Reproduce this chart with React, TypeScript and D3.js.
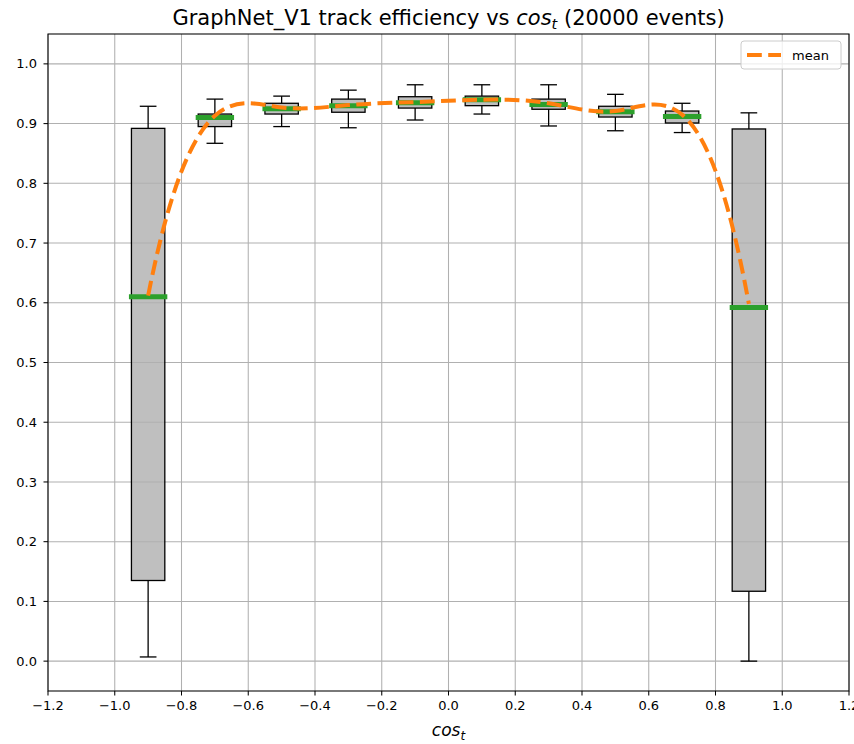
import React from "react";
import * as d3 from "d3";

// Box positions along cos_t and the per-bin efficiency statistics
const positions = [-0.9, -0.7, -0.5, -0.3, -0.1, 0.1, 0.3, 0.5, 0.7, 0.9];
const whiskerLow = [0.007, 0.867, 0.895, 0.893, 0.906, 0.916, 0.896, 0.888, 0.885, 0.0];
const q1 = [0.135, 0.895, 0.916, 0.919, 0.926, 0.930, 0.924, 0.911, 0.901, 0.117];
const medians = [0.61, 0.91, 0.925, 0.93, 0.935, 0.94, 0.932, 0.92, 0.912, 0.592];
const q3 = [0.892, 0.916, 0.934, 0.941, 0.945, 0.946, 0.941, 0.929, 0.921, 0.891];
const whiskerHigh = [0.929, 0.941, 0.946, 0.956, 0.965, 0.965, 0.965, 0.949, 0.934, 0.918];
const means = [0.612, 0.913, 0.927, 0.931, 0.936, 0.94, 0.934, 0.921, 0.915, 0.598];

const xTicks = [-1.2, -1.0, -0.8, -0.6, -0.4, -0.2, 0.0, 0.2, 0.4, 0.6, 0.8, 1.0, 1.2];
const yTicks = [0.0, 0.1, 0.2, 0.3, 0.4, 0.5, 0.6, 0.7, 0.8, 0.9, 1.0];

const W = 854;
const H = 744;
const left = 48;
const right = 849;
const top = 34;
const bottom = 691;
const boxWidth = 0.1;

const FONT = "'DejaVu Sans', sans-serif";

const fmt = (v: number) => v.toFixed(1).replace("-", "\u2212");

// Cubic spline with not-a-knot end conditions, emitted as Bezier segments.
function splinePath(px: number[], py: number[]): string {
  const n = px.length;
  const h = d3.range(n - 1).map((i) => px[i + 1] - px[i]);
  // Linear system for second derivatives M
  const A: number[][] = d3.range(n).map(() => new Array(n).fill(0));
  const b: number[] = new Array(n).fill(0);
  for (let i = 1; i < n - 1; i++) {
    A[i][i - 1] = h[i - 1];
    A[i][i] = 2 * (h[i - 1] + h[i]);
    A[i][i + 1] = h[i];
    b[i] = 6 * ((py[i + 1] - py[i]) / h[i] - (py[i] - py[i - 1]) / h[i - 1]);
  }
  // third derivative continuous at the second and second-to-last knots
  A[0][0] = h[1];
  A[0][1] = -(h[0] + h[1]);
  A[0][2] = h[0];
  A[n - 1][n - 3] = h[n - 2];
  A[n - 1][n - 2] = -(h[n - 3] + h[n - 2]);
  A[n - 1][n - 1] = h[n - 3];
  // Gaussian elimination with partial pivoting
  for (let c = 0; c < n; c++) {
    let p = c;
    for (let r = c + 1; r < n; r++) if (Math.abs(A[r][c]) > Math.abs(A[p][c])) p = r;
    [A[c], A[p]] = [A[p], A[c]];
    [b[c], b[p]] = [b[p], b[c]];
    for (let r = c + 1; r < n; r++) {
      const f = A[r][c] / A[c][c];
      for (let k = c; k < n; k++) A[r][k] -= f * A[c][k];
      b[r] -= f * b[c];
    }
  }
  const M = new Array(n).fill(0);
  for (let r = n - 1; r >= 0; r--) {
    let s = b[r];
    for (let k = r + 1; k < n; k++) s -= A[r][k] * M[k];
    M[r] = s / A[r][r];
  }
  const path = d3.path();
  path.moveTo(px[0], py[0]);
  for (let i = 0; i < n - 1; i++) {
    const hi = h[i];
    const slope = (py[i + 1] - py[i]) / hi;
    const s0 = slope - (hi * (2 * M[i] + M[i + 1])) / 6;
    const s1 = slope + (hi * (M[i] + 2 * M[i + 1])) / 6;
    path.bezierCurveTo(
      px[i] + hi / 3,
      py[i] + (s0 * hi) / 3,
      px[i + 1] - hi / 3,
      py[i + 1] - (s1 * hi) / 3,
      px[i + 1],
      py[i + 1]
    );
  }
  return path.toString();
}

export default function App() {
  const x = d3.scaleLinear().domain([-1.2, 1.2]).range([left, right]);
  const y = d3.scaleLinear().domain([-0.05, 1.05]).range([bottom, top]);

  const meanPath = splinePath(
    positions.map((p) => x(p)),
    means.map((m) => y(m))
  );

  const halfBox = (x(boxWidth) - x(0)) / 2;
  const halfCap = halfBox / 2;

  return (
    <svg
      width={W}
      height={H}
      style={{ position: "absolute", left: 0, top: 0, background: "#fff" }}
      fontFamily={FONT}
    >
      <rect x={0} y={0} width={W} height={H} fill="#fff" />

      {/* box fills */}
      {positions.map((p, i) => (
        <rect
          key={"fill" + i}
          x={x(p) - halfBox}
          y={y(q3[i])}
          width={2 * halfBox}
          height={y(q1[i]) - y(q3[i])}
          fill="#bfbfbf"
        />
      ))}

      {/* grid */}
      <g stroke="#b0b0b0" strokeWidth={1.05}>
        {xTicks.map((t) => (
          <line key={"gx" + t} x1={x(t)} x2={x(t)} y1={top} y2={bottom} />
        ))}
        {yTicks.map((t) => (
          <line key={"gy" + t} x1={left} x2={right} y1={y(t)} y2={y(t)} />
        ))}
      </g>

      {/* box outlines, whiskers and caps */}
      <g stroke="#000" strokeWidth={1.3} fill="none">
        {positions.map((p, i) => {
          const cx = x(p);
          return (
            <g key={"box" + i}>
              <rect
                x={cx - halfBox}
                y={y(q3[i])}
                width={2 * halfBox}
                height={y(q1[i]) - y(q3[i])}
              />
              <line x1={cx} x2={cx} y1={y(q3[i])} y2={y(whiskerHigh[i])} />
              <line x1={cx} x2={cx} y1={y(q1[i])} y2={y(whiskerLow[i])} />
              <line x1={cx - halfCap} x2={cx + halfCap} y1={y(whiskerHigh[i])} y2={y(whiskerHigh[i])} />
              <line x1={cx - halfCap} x2={cx + halfCap} y1={y(whiskerLow[i])} y2={y(whiskerLow[i])} />
            </g>
          );
        })}
      </g>

      {/* medians */}
      <g stroke="#2ca02c" strokeWidth={5} strokeLinecap="square">
        {positions.map((p, i) => (
          <line
            key={"med" + i}
            x1={x(p) - halfBox}
            x2={x(p) + halfBox}
            y1={y(medians[i])}
            y2={y(medians[i])}
          />
        ))}
      </g>

      {/* mean curve */}
      <path d={meanPath} fill="none" stroke="#ff7f0e" strokeWidth={4} strokeDasharray="14.8 6.4" />

      {/* frame */}
      <rect x={left} y={top} width={right - left} height={bottom - top} fill="none" stroke="#000" strokeWidth={1.05} />

      {/* x axis */}
      <g fontSize={13} textAnchor="middle" fill="#000">
        {xTicks.map((t) => (
          <g key={"xt" + t}>
            <line x1={x(t)} x2={x(t)} y1={bottom} y2={bottom + 4.5} stroke="#000" strokeWidth={1.05} />
            <text x={x(t)} y={bottom + 19}>
              {fmt(t)}
            </text>
          </g>
        ))}
      </g>

      {/* y axis */}
      <g fontSize={13} textAnchor="end" fill="#000">
        {yTicks.map((t) => (
          <g key={"yt" + t}>
            <line x1={left - 4.5} x2={left} y1={y(t)} y2={y(t)} stroke="#000" strokeWidth={1.05} />
            <text x={left - 11} y={y(t)} dy="0.35em">
              {fmt(t)}
            </text>
          </g>
        ))}
      </g>

      {/* axis label */}
      <text x={(left + right) / 2} y={736} textAnchor="middle" fontSize={17} fontStyle="italic">
        cos
        <tspan fontSize={12} dy={4}>t</tspan>
      </text>

      {/* title */}
      <text x={(left + right) / 2} y={25} textAnchor="middle" fontSize={21}>
        GraphNet_V1 track efficiency vs{" "}
        <tspan fontStyle="italic">cos</tspan>
        <tspan fontStyle="italic" fontSize={14.5} dy={3.5}>t</tspan>
        <tspan dy={-3.5}> (20000 events)</tspan>
      </text>

      {/* legend */}
      <g>
        <rect x={741} y={41} width={100} height={28} rx={3} fill="#fff" fillOpacity={0.8} stroke="#ccc" />
        <line x1={747} x2={781} y1={55} y2={55} stroke="#ff7f0e" strokeWidth={4} strokeDasharray="14.8 6.4" />
        <text x={792} y={59.5} fontSize={13} fill="#000">
          mean
        </text>
      </g>
    </svg>
  );
}
